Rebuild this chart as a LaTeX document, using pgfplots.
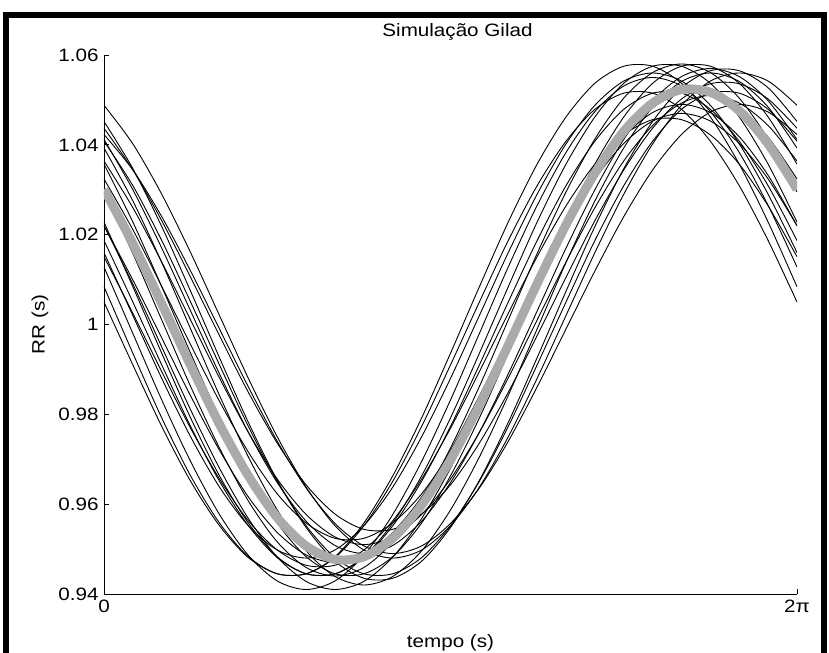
\documentclass[border=0pt]{standalone}
\usepackage{fontspec}
\setmainfont{Liberation Sans}[FakeStretch=1.15]
\usepackage{pgfplots}
\usepackage{pgfplotstable}
\pgfplotsset{compat=1.18}
\definecolor{meangray}{RGB}{170,170,170}

\pgfplotstableread{
x g a1 a2 a3 a4 a5 a6 a7 a8 a9 a10 b1 b2 b3 b4 b5 b6 b7 b8 b9 b10
0 1.0301 1.0488 1.0412 1.0393 1.0295 1.0220 1.0160 1.0128 1.0423 1.0364 1.0220 1.0452 1.0408 1.0357 1.0437 1.0228 1.0187 1.0151 1.0084 1.0050 1.0324
0.2618 1.0180 1.0402 1.0300 1.0275 1.0158 1.0099 1.0020 0.9980 1.0344 1.0260 1.0090 1.0347 1.0309 1.0228 1.0344 1.0084 1.0050 1.0025 0.9936 0.9910 1.0211
0.5236 1.0046 1.0290 1.0170 1.0138 1.0010 0.9970 0.9880 0.9832 1.0240 1.0139 0.9950 1.0218 1.0187 1.0084 1.0231 0.9936 0.9910 0.9895 0.9792 0.9773 1.0085
0.7854 0.9909 1.0160 1.0030 0.9990 0.9862 0.9841 0.9750 0.9695 1.0119 1.0010 0.9810 1.0074 1.0050 0.9936 1.0105 0.9792 0.9773 0.9769 0.9663 0.9651 0.9955
1.0472 0.9778 1.0020 0.9890 0.9842 0.9725 0.9720 0.9638 0.9577 0.9990 0.9881 0.9680 0.9926 0.9910 0.9792 0.9975 0.9663 0.9651 0.9656 0.9558 0.9552 0.9829
1.3090 0.9663 0.9880 0.9760 0.9705 0.9607 0.9616 0.9552 0.9486 0.9861 0.9760 0.9568 0.9782 0.9773 0.9663 0.9849 0.9558 0.9552 0.9563 0.9483 0.9481 0.9716
1.5708 0.9570 0.9750 0.9648 0.9587 0.9516 0.9537 0.9498 0.9429 0.9740 0.9656 0.9482 0.9653 0.9651 0.9558 0.9736 0.9483 0.9481 0.9498 0.9445 0.9445 0.9623
1.8326 0.9507 0.9638 0.9562 0.9496 0.9459 0.9487 0.9480 0.9410 0.9636 0.9577 0.9428 0.9548 0.9552 0.9483 0.9643 0.9445 0.9445 0.9464 0.9445 0.9445 0.9558
2.0944 0.9477 0.9552 0.9508 0.9439 0.9440 0.9470 0.9498 0.9429 0.9557 0.9527 0.9410 0.9473 0.9481 0.9445 0.9578 0.9445 0.9445 0.9464 0.9483 0.9481 0.9524
2.3562 0.9483 0.9498 0.9490 0.9420 0.9459 0.9487 0.9552 0.9486 0.9507 0.9510 0.9428 0.9435 0.9445 0.9445 0.9544 0.9483 0.9481 0.9498 0.9558 0.9552 0.9524
2.6180 0.9524 0.9480 0.9508 0.9439 0.9516 0.9537 0.9638 0.9577 0.9490 0.9527 0.9482 0.9435 0.9445 0.9483 0.9544 0.9558 0.9552 0.9563 0.9663 0.9651 0.9558
2.8798 0.9598 0.9498 0.9562 0.9496 0.9607 0.9616 0.9750 0.9695 0.9507 0.9577 0.9568 0.9473 0.9481 0.9558 0.9578 0.9663 0.9651 0.9656 0.9792 0.9773 0.9623
3.1416 0.9699 0.9552 0.9648 0.9587 0.9725 0.9720 0.9880 0.9832 0.9557 0.9656 0.9680 0.9548 0.9552 0.9663 0.9643 0.9792 0.9773 0.9769 0.9936 0.9910 0.9716
3.4034 0.9820 0.9638 0.9760 0.9705 0.9862 0.9841 1.0020 0.9980 0.9636 0.9760 0.9810 0.9653 0.9651 0.9792 0.9736 0.9936 0.9910 0.9895 1.0084 1.0050 0.9829
3.6652 0.9954 0.9750 0.9890 0.9842 1.0010 0.9970 1.0160 1.0128 0.9740 0.9881 0.9950 0.9782 0.9773 0.9936 0.9849 1.0084 1.0050 1.0025 1.0228 1.0187 0.9955
3.9270 1.0091 0.9880 1.0030 0.9990 1.0158 1.0099 1.0290 1.0265 0.9861 1.0010 1.0090 0.9926 0.9910 1.0084 0.9975 1.0228 1.0187 1.0151 1.0357 1.0309 1.0085
4.1888 1.0222 1.0020 1.0170 1.0138 1.0295 1.0220 1.0402 1.0383 0.9990 1.0139 1.0220 1.0074 1.0050 1.0228 1.0105 1.0357 1.0309 1.0264 1.0462 1.0408 1.0211
4.4506 1.0337 1.0160 1.0300 1.0275 1.0413 1.0324 1.0488 1.0474 1.0119 1.0260 1.0332 1.0218 1.0187 1.0357 1.0231 1.0462 1.0408 1.0357 1.0537 1.0479 1.0324
4.7124 1.0430 1.0290 1.0412 1.0393 1.0504 1.0403 1.0542 1.0531 1.0240 1.0364 1.0418 1.0347 1.0309 1.0462 1.0344 1.0537 1.0479 1.0422 1.0575 1.0515 1.0417
4.9742 1.0493 1.0402 1.0498 1.0484 1.0561 1.0453 1.0560 1.0550 1.0344 1.0443 1.0472 1.0452 1.0408 1.0537 1.0437 1.0575 1.0515 1.0456 1.0575 1.0515 1.0482
5.2360 1.0523 1.0488 1.0552 1.0541 1.0580 1.0470 1.0542 1.0531 1.0423 1.0493 1.0490 1.0527 1.0479 1.0575 1.0502 1.0575 1.0515 1.0456 1.0537 1.0479 1.0516
5.4978 1.0517 1.0542 1.0570 1.0560 1.0561 1.0453 1.0488 1.0474 1.0473 1.0510 1.0472 1.0565 1.0515 1.0575 1.0536 1.0537 1.0479 1.0422 1.0462 1.0408 1.0516
5.7596 1.0476 1.0560 1.0552 1.0541 1.0504 1.0403 1.0402 1.0383 1.0490 1.0493 1.0418 1.0565 1.0515 1.0537 1.0536 1.0462 1.0408 1.0357 1.0357 1.0309 1.0482
6.0214 1.0402 1.0542 1.0498 1.0484 1.0413 1.0324 1.0290 1.0265 1.0473 1.0443 1.0332 1.0527 1.0479 1.0462 1.0502 1.0357 1.0309 1.0264 1.0228 1.0187 1.0417
6.2832 1.0301 1.0488 1.0412 1.0393 1.0295 1.0220 1.0160 1.0128 1.0423 1.0364 1.0220 1.0452 1.0408 1.0357 1.0437 1.0228 1.0187 1.0151 1.0084 1.0050 1.0324
}\rrdata

\begin{document}
\begin{tikzpicture}
\useasboundingbox (-104bp,-59bp) rectangle (725bp,594bp);
\fill[white] (-104bp,-59bp) rectangle (725bp,594bp);
\begin{axis}[
  at={(0,0)}, anchor=south west,
  scale only axis, width=693bp, height=539bp,
  xmin=0, xmax=6.2832, ymin=0.94, ymax=1.06,
  axis lines*=left,
  axis line style={line width=0.8bp, black},
  tick align=inside,
  major tick length=5bp,
  tick style={line width=0.8bp, black},
  xtick={0,6.2832}, xticklabels={0,2π},
  ytick={0.94,0.96,0.98,1,1.02,1.04,1.06},
  yticklabels={0.94,0.96,0.98,1,1.02,1.04,1.06},
  /pgf/number format/assume math mode=true,
  tick label style={font=\fontsize{18}{20}\selectfont},
  yticklabel style={xshift=-2bp},
  xticklabel style={yshift=-2bp},
  title={Simulação Gilad},
  xlabel={tempo (s)},
  ylabel={RR (s)},
  every axis title/.style={at={(axis description cs:0.5101,1.0427)}, anchor=center, font=\fontsize{18}{20}\selectfont},
  every axis x label/.style={at={(axis description cs:0.5,-0.0900)}, anchor=center, font=\fontsize{18}{20}\selectfont},
  every axis y label/.style={at={(axis description cs:-0.0924,0.5)}, rotate=90, anchor=center, font=\fontsize{18}{20}\selectfont},
]
\pgfplotsinvokeforeach{a1,a2,a3,a4,a5,a6,a7,a8,a9,a10,b1,b2,b3,b4,b5,b6,b7,b8,b9,b10}{
  \addplot[black, line width=0.9bp, smooth] table[x=x, y=#1]{\rrdata};
}
\addplot[meangray, line width=9bp, smooth] table[x=x, y=g]{\rrdata};
\end{axis}
\draw[line width=6bp, black, line join=miter] (-97.5bp,-70bp) -- (-97.5bp,579bp) -- (719.5bp,579bp) -- (719.5bp,-70bp);
\end{tikzpicture}
\end{document}
